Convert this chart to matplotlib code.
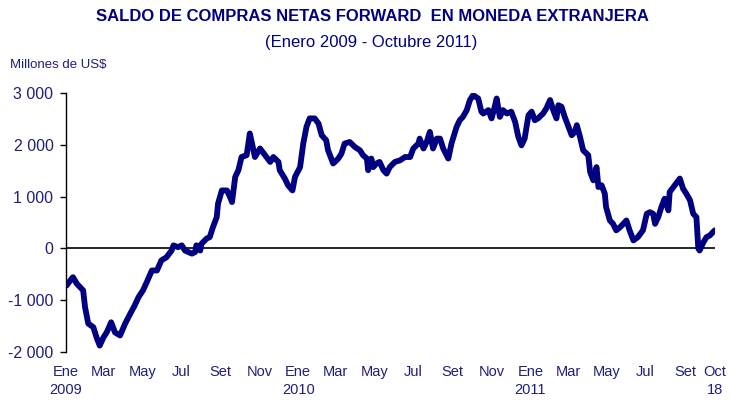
import matplotlib
matplotlib.use("Agg")
import matplotlib.pyplot as plt
import matplotlib.ticker as mticker
import pandas as pd

plt.rcParams["font.family"] = ["Liberation Sans", "DejaVu Sans"]

NAVY = "#000080"
TEXT = "#1f1f7a"

# saldo diario (lectura aproximada del grafico), millones de US$
dates = [
    "2009-01-02", "2009-01-10", "2009-01-12", "2009-01-18", "2009-01-28", "2009-01-31",
    "2009-02-05", "2009-02-13", "2009-02-18", "2009-02-23", "2009-03-01", "2009-03-06",
    "2009-03-13", "2009-03-19", "2009-03-27", "2009-04-04", "2009-04-12", "2009-04-19",
    "2009-04-25", "2009-05-02", "2009-05-08", "2009-05-16", "2009-05-24", "2009-05-31",
    "2009-06-08", "2009-06-16", "2009-06-19", "2009-06-26", "2009-07-02", "2009-07-07",
    "2009-07-18", "2009-07-23", "2009-07-25", "2009-07-31", "2009-08-02", "2009-08-10",
    "2009-08-15", "2009-08-20", "2009-08-26", "2009-08-28", "2009-09-03", "2009-09-11",
    "2009-09-16", "2009-09-19", "2009-09-24", "2009-09-29", "2009-10-04", "2009-10-12",
    "2009-10-17", "2009-10-25", "2009-11-02", "2009-11-10", "2009-11-18", "2009-11-23",
    "2009-12-01", "2009-12-03", "2009-12-11", "2009-12-16", "2009-12-23", "2009-12-27",
    "2010-01-04", "2010-01-09", "2010-01-14", "2010-01-19", "2010-01-27", "2010-02-02",
    "2010-02-07", "2010-02-14", "2010-02-17", "2010-02-25", "2010-03-05", "2010-03-10",
    "2010-03-15", "2010-03-23", "2010-03-31", "2010-04-08", "2010-04-13", "2010-04-19",
    "2010-04-21", "2010-04-26", "2010-04-29", "2010-05-04", "2010-05-09", "2010-05-15",
    "2010-05-20", "2010-05-25", "2010-06-02", "2010-06-10", "2010-06-18", "2010-06-26",
    "2010-07-01", "2010-07-09", "2010-07-11", "2010-07-17", "2010-07-22", "2010-07-27",
    "2010-08-01", "2010-08-07", "2010-08-12", "2010-08-17", "2010-08-25", "2010-08-30",
    "2010-09-07", "2010-09-12", "2010-09-17", "2010-09-23", "2010-09-28", "2010-10-03",
    "2010-10-11", "2010-10-16", "2010-10-19", "2010-10-27", "2010-11-01", "2010-11-06",
    "2010-11-09", "2010-11-14", "2010-11-19", "2010-11-25", "2010-12-02", "2010-12-08",
    "2010-12-13", "2010-12-18", "2010-12-23", "2010-12-29", "2011-01-03", "2011-01-08",
    "2011-01-13", "2011-01-21", "2011-01-26", "2011-02-01", "2011-02-06", "2011-02-11",
    "2011-02-14", "2011-02-19", "2011-02-24", "2011-03-01", "2011-03-07", "2011-03-12",
    "2011-03-15", "2011-03-20", "2011-03-25", "2011-04-02", "2011-04-05", "2011-04-10",
    "2011-04-15", "2011-04-18", "2011-04-23", "2011-04-28", "2011-04-30", "2011-05-06",
    "2011-05-11", "2011-05-16", "2011-05-22", "2011-05-27", "2011-06-01", "2011-06-06",
    "2011-06-12", "2011-06-19", "2011-06-27", "2011-07-03", "2011-07-08", "2011-07-13",
    "2011-07-16", "2011-07-21", "2011-07-26", "2011-07-31", "2011-08-06", "2011-08-08",
    "2011-08-16", "2011-08-24", "2011-08-29", "2011-09-03", "2011-09-09", "2011-09-14",
    "2011-09-19", "2011-09-22", "2011-09-24", "2011-09-30", "2011-10-05", "2011-10-10",
    "2011-10-15", "2011-10-18",
]
saldo = [
    -715, -580, -555, -680, -810, -1135,
    -1450, -1520, -1715, -1875, -1715, -1620,
    -1425, -1620, -1680, -1450, -1260, -1100,
    -940, -810, -650, -425, -425, -230,
    -170, -40, 60, 25, 60, -40,
    -100, -70, 60, -40, 90, 190,
    220, 410, 605, 865, 1120, 1120,
    990, 895, 1380, 1510, 1765, 1800,
    2220, 1765, 1930, 1800, 1670, 1765,
    1670, 1510, 1350, 1220, 1120, 1380,
    1570, 2025, 2345, 2510, 2510, 2410,
    2185, 2090, 1895, 1640, 1735, 1830,
    2025, 2055, 1960, 1895, 1800, 1735,
    1510, 1735, 1570, 1640, 1670, 1510,
    1445, 1570, 1670, 1700, 1765, 1765,
    1930, 2025, 2120, 1930, 2055, 2250,
    1930, 2120, 2120, 1930, 1735, 2025,
    2345, 2475, 2540, 2670, 2865, 2960,
    2895, 2640, 2605, 2670, 2510, 2735,
    2895, 2540, 2670, 2605, 2640, 2445,
    2155, 1990, 2120, 2570, 2640, 2475,
    2510, 2605, 2700, 2865, 2670, 2510,
    2765, 2735, 2540, 2380, 2185, 2250,
    2380, 2155, 1895, 1800, 1475, 1315,
    1570, 1185, 1220, 1060, 800, 540,
    475, 350, 410, 475, 540, 350,
    155, 220, 350, 670, 700, 670,
    475, 605, 800, 960, 735, 1090,
    1220, 1350, 1155, 1060, 930, 670,
    605, 0, -40, 120, 220, 250,
    315, 350,
]

tick_dates = [
    "2009-01-01", "2009-03-01", "2009-05-01", "2009-07-01", "2009-09-01", "2009-11-01",
    "2010-01-01", "2010-03-01", "2010-05-01", "2010-07-01", "2010-09-01", "2010-11-01",
    "2011-01-01", "2011-03-01", "2011-05-01", "2011-07-01", "2011-09-01", "2011-10-18",
]
tick_labels = [
    "Ene\n2009", "Mar", "May", "Jul", "Set", "Nov",
    "Ene\n2010", "Mar", "May", "Jul", "Set", "Nov",
    "Ene\n2011", "Mar", "May", "Jul", "Set", "Oct\n18",
]

x = pd.to_datetime(dates)
xt = pd.to_datetime(tick_dates)

fig = plt.figure(figsize=(7.34, 4.01), dpi=100)
ax = fig.add_axes([0.0899, 0.122, 0.884, 0.646])

ax.axhline(0, color="black", lw=1.2, zorder=1)
ax.plot(x, saldo, color=NAVY, lw=4.2, solid_joinstyle="round",
        solid_capstyle="round", zorder=2)

ax.set_xlim(pd.Timestamp("2009-01-01"), pd.Timestamp("2011-10-18"))
ax.set_ylim(-2000, 3000)
ax.set_yticks([-2000, -1000, 0, 1000, 2000, 3000])
ax.yaxis.set_major_formatter(
    mticker.FuncFormatter(lambda v, p: f"{int(v):,}".replace(",", " ")))
ax.set_xticks(xt)
ax.set_xticklabels(tick_labels, linespacing=1.4)

for s in ["top", "right", "bottom"]:
    ax.spines[s].set_visible(False)
ax.spines["left"].set_color("black")
ax.spines["left"].set_linewidth(1.0)
ax.tick_params(axis="y", direction="out", length=4, width=1, pad=5,
               labelsize=11.5, labelcolor=TEXT)
ax.tick_params(axis="x", length=0, pad=9, labelsize=10.5, labelcolor=TEXT)

fig.text(0.508, 0.958, "SALDO DE COMPRAS NETAS FORWARD  EN MONEDA EXTRANJERA",
         ha="center", va="center", fontsize=12, fontweight="bold", color=NAVY)
fig.text(0.506, 0.895, "(Enero 2009 - Octubre 2011)",
         ha="center", va="center", fontsize=12, color=NAVY)
fig.text(0.014, 0.838, "Millones de US$", ha="left", va="center",
         fontsize=9.5, color=TEXT)

fig.savefig("out.png", dpi=100)
